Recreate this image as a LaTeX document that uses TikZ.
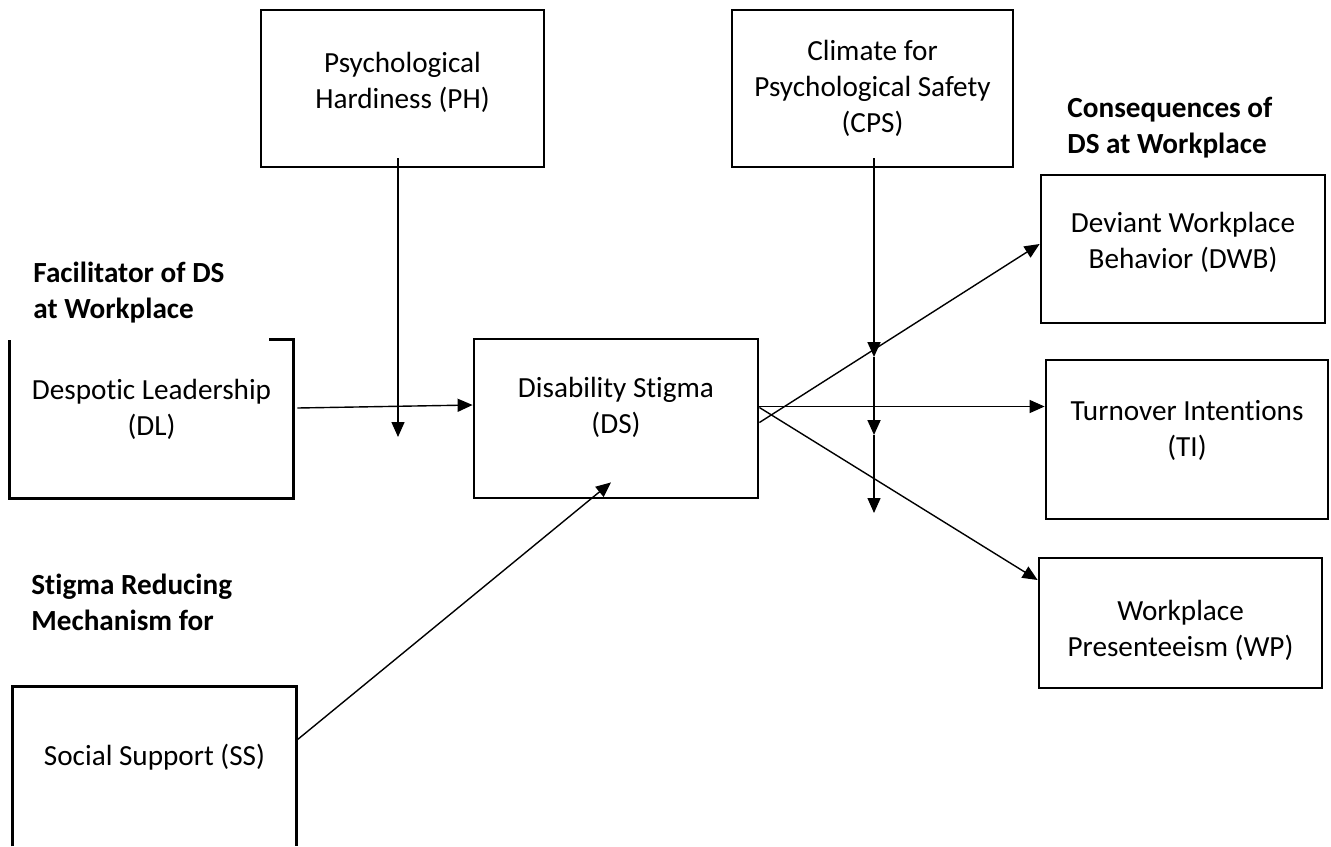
\documentclass[tikz,border=0pt]{standalone}
\usepackage{fontspec}
\setmainfont{Carlito}[Ligatures=NoCommon]
\usetikzlibrary{arrows.meta}

\begin{document}
\begin{tikzpicture}[x=0.5pt,y=-0.5pt,
       box/.style={draw,line width=1.4pt,align=center,inner sep=0pt,
          font=\fontsize{14.6}{18}\selectfont},
       open/.style={align=center,inner sep=0pt,
          font=\fontsize{14.6}{18}\selectfont},
       head/.style={align=left,inner sep=0pt,anchor=base west,
          font=\fontsize{14.6}{18}\selectfont\bfseries},
       link/.style={line width=0.7pt,-{Triangle[length=7.5pt,width=6.5pt]}}]
       \useasboundingbox (0,0) rectangle (1331,846);
       % headings
       \node at (33,318) [head] (facil) {Facilitator of DS\\at Workplace};
       \node at (31,630) [head] (reduce) {Stigma Reducing\\Mechanism for};
       \node at (1067,153) [head] (conseq) {Consequences of\\DS at Workplace};
       % moderators
       \node at (402.5,88.5) [box,minimum width=141.5pt,minimum height=78.5pt,
          text depth=8.6pt] (PH) {Psychological\\Hardiness (PH)};
       \node at (872.5,88.5) [box,minimum width=140.5pt,minimum height=78.5pt] (CPS)
          {Climate for\\Psychological Safety\\(CPS)};
       % left column
       \node at (151.5,419) [open,minimum width=141.5pt,minimum height=79pt,
          text depth=11.6pt] (DL) {Despotic Leadership\\(DL)};
       \draw [line width=1.4pt]
          ([xshift=-12pt]DL.north east) -- (DL.north east) -- (DL.south east)
          -- (DL.south west) -- (DL.north west);
       \node at (154.5,766.5) [open,minimum width=141.5pt,minimum height=79.5pt,
          text depth=11.6pt] (SS) {Social Support (SS)};
       \draw [line width=1.4pt]
          (SS.south west) -- (SS.north west) -- (SS.north east) -- (SS.south east);
       % centre
       \node at (616,418.5) [box,minimum width=142pt,minimum height=79.5pt,
          text depth=13.6pt] (DS) {Disability Stigma\\(DS)};
       % outcomes
       \node at (1183,249) [box,minimum width=142pt,minimum height=74pt,
          text depth=8.6pt] (DWB) {Deviant Workplace\\Behavior (DWB)};
       \node at (1187,439.5) [box,minimum width=141pt,minimum height=79.5pt,
          text depth=10.6pt] (TI) {Turnover Intentions\\(TI)};
       \node at (1180.5,623) [box,minimum width=141.5pt,minimum height=65pt,
          text height=36pt] (WP) {Workplace\\Presenteeism (WP)};
       % free ends of the moderating arrows
       \coordinate (phTip) at (398,437);
       \coordinate (cpsTipA) at (874,357);
       \coordinate (cpsTipB) at (874,435);
       \coordinate (cpsTipC) at (874,513);
       % paths
       \draw [link] ([xshift=2pt,yshift=5.5pt]DL.east) -- ([yshift=6.75pt]DS.west);
       \draw [link] ([yshift=13pt]SS.east) -- ([xshift=-2.5pt,yshift=8.5pt]DS.south);
       \draw [link] ([xshift=-2.25pt,yshift=5pt]PH.south) -- (phTip);
       \draw [link,line width=0.9pt] ([xshift=0.75pt,yshift=5pt]CPS.south) -- (cpsTipA);
       \draw [link,line width=0.9pt] (cpsTipA) -- (cpsTipB);
       \draw [link] (cpsTipB) -- (cpsTipC);
       \draw [link] ([yshift=-2pt]DS.east) -- ([yshift=2.5pt]DWB.west);
       \draw [link] ([yshift=6pt]DS.east) -- ([yshift=6pt]DS.east -| TI.west);
       \draw [link] ([yshift=5.5pt]DS.east) -- ([yshift=21.5pt]WP.west);
      \end{tikzpicture}
\end{document}
